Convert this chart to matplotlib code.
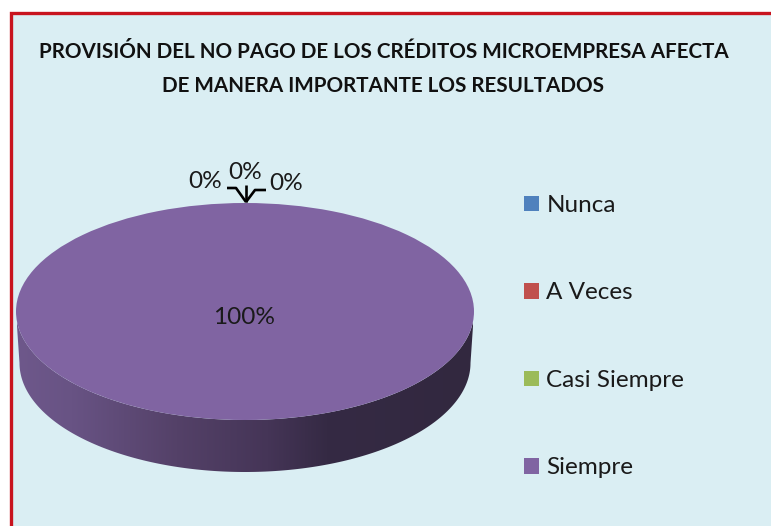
import numpy as np
import matplotlib
matplotlib.use("Agg")
import matplotlib.pyplot as plt
from matplotlib.patches import Rectangle, Polygon

W, H = 771, 526
title_lines = ["PROVISIÓN DEL NO PAGO DE LOS CRÉDITOS MICROEMPRESA AFECTA",
               "DE MANERA IMPORTANTE LOS RESULTADOS"]
categories = ["Nunca", "A Veces", "Casi Siempre", "Siempre"]
values = [0, 0, 0, 100]
colors = ["#4F81BD", "#C0504D", "#9BBB59", "#8064A2"]
pct_labels = ["0%", "0%", "0%", "100%"]

plt.rcParams['font.family'] = ['Lato', 'DejaVu Sans']
TXT = "#1a1a1a"

fig = plt.figure(figsize=(W/100, H/100), dpi=100, facecolor="white")
bg = fig.add_axes([0, 0, 1, 1])
bg.set_xlim(0, W); bg.set_ylim(H, 0); bg.axis("off")

# chart area and red frame
bg.add_patch(Rectangle((11, 12.5), W, H, fc="#DAEEF3", ec="#C8141E", lw=2.4))

# pie side (extruded rim) with horizontal shading
cx, cy, rx, ry = 245, 311.5, 229, 108.5
bcx, bcy, brx, bry = 245, 363, 225.5, 109
t = np.linspace(0, np.pi, 300)
top_x = cx + rx*np.cos(t); top_y = cy + ry*np.sin(t)
bot_x = bcx + brx*np.cos(t); bot_y = bcy + bry*np.sin(t)
outline = np.vstack([np.column_stack([bot_x, bot_y]),
                     np.column_stack([top_x[::-1], top_y[::-1]])])
clip = Polygon(outline, closed=True, fc="none", ec="none")
bg.add_patch(clip)
stops = np.array([[0.0, 0x6E, 0x58, 0x8B], [0.12, 0x68, 0x53, 0x84], [0.35, 0x54, 0x41, 0x68],
                  [0.55, 0x45, 0x35, 0x57], [0.68, 0x35, 0x2A, 0x44], [1.0, 0x32, 0x28, 0x3F]])
u = np.linspace(0, 1, 456)
grad = np.stack([np.interp(u, stops[:, 0], stops[:, i]) for i in (1, 2, 3)], axis=-1)[None, :, :]/255
im = bg.imshow(grad, extent=(17, 473, 480, 300), aspect="auto", zorder=2)
im.set_clip_path(clip)
bg.set_xlim(0, W); bg.set_ylim(H, 0)

# pie top
pie_ax = fig.add_axes([(cx-rx)/W, 1-(cy+ry)/H, 2*rx/W, 2*ry/H])
wedges, _ = pie_ax.pie(values, colors=colors, startangle=90, counterclock=False, radius=1)
pie_ax.set_aspect("auto")
pie_ax.set_xlim(-1, 1); pie_ax.set_ylim(-1, 1)
pie_ax.patch.set_alpha(0)

# data labels and leader lines
ov = fig.add_axes([0, 0, 1, 1])
ov.set_xlim(0, W); ov.set_ylim(H, 0); ov.axis("off")
for xs, ys in [((227, 236, 246), (188, 188, 202)),
               ((266, 255, 246), (190, 190, 202)),
               ((246, 246), (185, 202))]:
    ov.plot(xs, ys, color="black", lw=1.9, solid_capstyle="butt")
fs_lab = 17.6
for txt, x, y in zip(pct_labels, (205.5, 245, 286.5, 244), (181, 172.5, 184, 318)):
    ov.text(x, y, txt, ha="center", va="center", fontsize=fs_lab, color=TXT)

# title
for line, y in zip(title_lines, (52, 86)):
    ov.text(383.5, y, line, ha="center", va="center", fontsize=14.85, fontweight="bold", color="#111111")

# legend
leg = ov.legend(wedges, categories, loc="upper left", bbox_to_anchor=(524/W, 1-195/H),
                bbox_transform=fig.transFigure, frameon=False, fontsize=17.5,
                handlelength=0.62, handleheight=0.62, handletextpad=0.3,
                labelspacing=2.735, borderpad=0, borderaxespad=0, labelcolor=TXT)

fig.savefig("out.png", dpi=100, facecolor="white")
